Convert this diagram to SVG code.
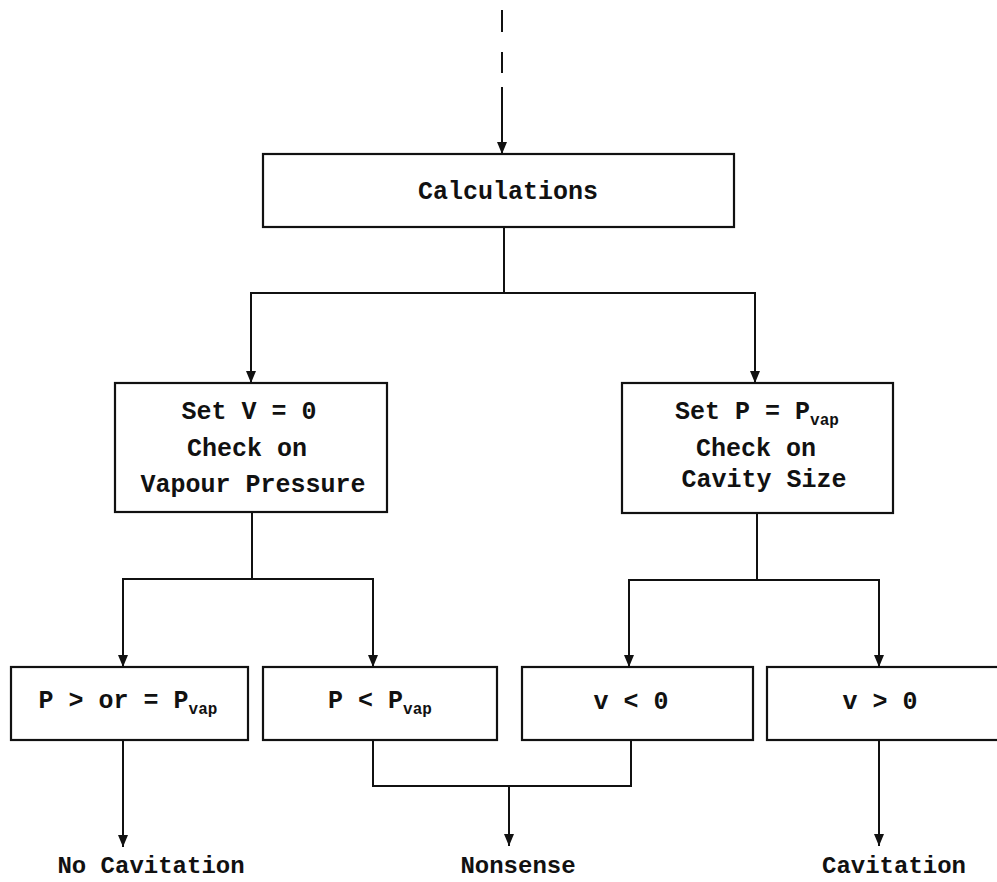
<svg xmlns="http://www.w3.org/2000/svg" width="997" height="882" viewBox="0 0 997 882">
<defs>
<marker id="arr" viewBox="0 0 12 10" refX="12" refY="5" markerWidth="12" markerHeight="10" markerUnits="userSpaceOnUse" orient="auto">
<path d="M0,0 L12,5 L0,10 z" fill="#111"/>
</marker>
<style>
.box{fill:#fff;stroke:#111;stroke-width:2.2}
.ln{fill:none;stroke:#111;stroke-width:2}
.ar{fill:none;stroke:#111;stroke-width:2;marker-end:url(#arr)}
.t{font-family:"Liberation Mono","Courier New",monospace;font-size:25px;font-weight:bold;fill:#111;text-anchor:middle}
.lb{font-size:24px}
.sub{font-size:16px}
</style>
</defs>
<rect width="997" height="882" fill="#fff"/>
<g id="connectors">
<line class="ln" x1="502" y1="10" x2="502" y2="32"/>
<line class="ln" x1="502" y1="52" x2="502" y2="73"/>
<line class="ar" x1="502" y1="87" x2="502" y2="154"/>
<line class="ln" x1="504" y1="227" x2="504" y2="293"/>
<line class="ln" x1="250" y1="293" x2="756" y2="293"/>
<line class="ar" x1="251" y1="293" x2="251" y2="383"/>
<line class="ar" x1="755" y1="293" x2="755" y2="383"/>
<line class="ln" x1="252" y1="512" x2="252" y2="579"/>
<line class="ln" x1="122" y1="579" x2="374" y2="579"/>
<line class="ar" x1="123" y1="579" x2="123" y2="667"/>
<line class="ar" x1="373" y1="579" x2="373" y2="667"/>
<line class="ln" x1="757" y1="513" x2="757" y2="580"/>
<line class="ln" x1="628" y1="580" x2="880" y2="580"/>
<line class="ar" x1="629" y1="580" x2="629" y2="667"/>
<line class="ar" x1="879" y1="580" x2="879" y2="667"/>
<line class="ar" x1="123" y1="740" x2="123" y2="847"/>
<polyline class="ln" points="373,740 373,786 631,786 631,740"/>
<line class="ar" x1="509" y1="786" x2="509" y2="846"/>
<line class="ar" x1="879" y1="740" x2="879" y2="846"/>
</g>
<g id="calculations">
<rect class="box" x="263" y="154" width="471" height="73"/>
<text class="t" x="508" y="199">Calculations</text>
</g>
<g id="set-v">
<rect class="box" x="115" y="383" width="272" height="129"/>
<text class="t" x="249" y="419">Set V = 0</text>
<text class="t" x="247" y="456">Check on</text>
<text class="t" x="253" y="492">Vapour Pressure</text>
</g>
<g id="set-p">
<rect class="box" x="622" y="383" width="271" height="130"/>
<text class="t" x="757" y="419">Set P = P<tspan class="sub" dy="6">vap</tspan></text>
<text class="t" x="756" y="456">Check on</text>
<text class="t" x="764" y="487">Cavity Size</text>
</g>
<g id="p-ge">
<rect class="box" x="11" y="667" width="237" height="73"/>
<text class="t" x="128" y="708">P &gt; or = P<tspan class="sub" dy="6">vap</tspan></text>
</g>
<g id="p-lt">
<rect class="box" x="263" y="667" width="234" height="73"/>
<text class="t" x="380" y="708">P &lt; P<tspan class="sub" dy="6">vap</tspan></text>
</g>
<g id="v-lt">
<rect class="box" x="522" y="667" width="231" height="73"/>
<text class="t" x="631" y="709">v &lt; 0</text>
</g>
<g id="v-gt">
<rect class="box" x="767" y="667" width="240" height="73"/>
<text class="t" x="880" y="709">v &gt; 0</text>
</g>
<g id="labels">
<text class="t lb" x="151" y="873">No Cavitation</text>
<text class="t lb" x="518" y="873">Nonsense</text>
<text class="t lb" x="894" y="873">Cavitation</text>
</g>
</svg>
